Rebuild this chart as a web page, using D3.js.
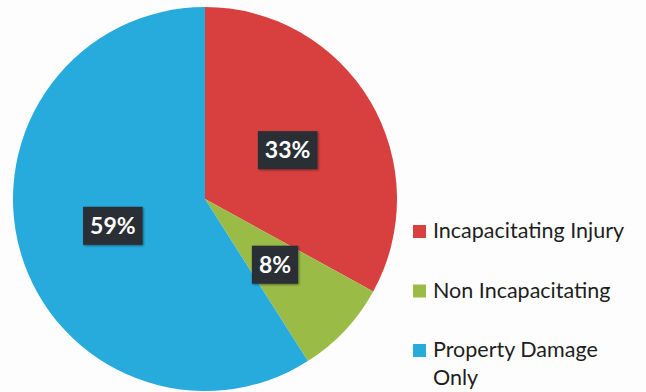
<!DOCTYPE html>
<html>
<head>
<meta charset="utf-8">
<script src="https://cdn.jsdelivr.net/npm/d3@7"></script>
<style>
  body { margin: 0; background: #fdfdfd; }
  svg { display: block; }
</style>
</head>
<body>
<div id="chart"></div>
<script>
// Data
var categories = ["Incapacitating Injury", "Non Incapacitating", "Property Damage Only"];
var legendLines = [["Incapacitating Injury"], ["Non Incapacitating"], ["Property Damage", "Only"]];
var values = [33, 8, 59];
var colors = ["#d7403f", "#9bbb47", "#27aadc"];

// Basic size information
var svgWidth = 646;
var svgHeight = 392;
var cx = 205, cy = 199, radius = 192;

var svg = d3.select("#chart")
    .append("svg")
        .attr("width", svgWidth)
        .attr("height", svgHeight);

var defs = svg.append("defs");
var shadow = defs.append("filter").attr("id", "shadow")
    .attr("x", "-20%").attr("y", "-20%").attr("width", "140%").attr("height", "140%");
shadow.append("feDropShadow")
    .attr("dx", 1).attr("dy", 1).attr("stdDeviation", 1.2)
    .attr("flood-color", "#000").attr("flood-opacity", 0.45);

var color = d3.scaleOrdinal().domain(categories).range(colors);

var pie = d3.pie().sort(null).value(function (d) { return d.value; });
var data = categories.map(function (c, i) { return {name: c, value: values[i]}; });
var arcs = pie(data);

var arc = d3.arc().innerRadius(0).outerRadius(radius);
var labelArc = d3.arc().innerRadius(radius * 0.5).outerRadius(radius * 0.5);

var g = svg.append("g")
    .attr("transform", "translate(" + cx + "," + cy + ")");

g.selectAll("path")
    .data(arcs)
    .join("path")
        .attr("d", arc)
        .attr("fill", function (d) { return color(d.data.name); });

// Data labels in dark boxes
var total = d3.sum(values);
var label = g.selectAll("g.label")
    .data(arcs)
    .join("g")
        .attr("class", "label")
        .attr("transform", function (d) { return "translate(" + labelArc.centroid(d) + ")"; });

label.append("text")
    .attr("text-anchor", "middle")
    .attr("dy", "0.36em")
    .style("font", "bold 23px Lato, 'Open Sans', sans-serif")
    .attr("fill", "#ffffff")
    .text(function (d) { return Math.round(d.data.value / total * 100) + "%"; })
    .each(function () {
        var b = this.getBBox();
        d3.select(this.parentNode).insert("rect", "text")
            .attr("x", -b.width / 2 - 7)
            .attr("y", -19)
            .attr("width", b.width + 14)
            .attr("height", 38)
            .attr("fill", "#2a2f36")
            .attr("filter", "url(#shadow)");
    });

// Legend
var legendX = 413, legendTop = 238, rowGap = 59.5, lineHeight = 28;
var legend = svg.append("g")
    .style("font", "21.5px Lato, 'Open Sans', sans-serif");

var item = legend.selectAll("g")
    .data(categories)
    .join("g")
        .attr("transform", function (d, i) { return "translate(" + legendX + "," + (legendTop + rowGap * i) + ")"; });

item.append("rect")
    .attr("x", 0)
    .attr("y", -13)
    .attr("width", 13)
    .attr("height", 13)
    .attr("fill", function (d) { return color(d); });

item.append("text")
    .attr("fill", "#1e1e1e")
    .selectAll("tspan")
    .data(function (d, i) { return legendLines[i]; })
    .join("tspan")
        .attr("x", 20)
        .attr("y", function (d, j) { return j * lineHeight; })
        .text(function (d) { return d; });
</script>
</body>
</html>
